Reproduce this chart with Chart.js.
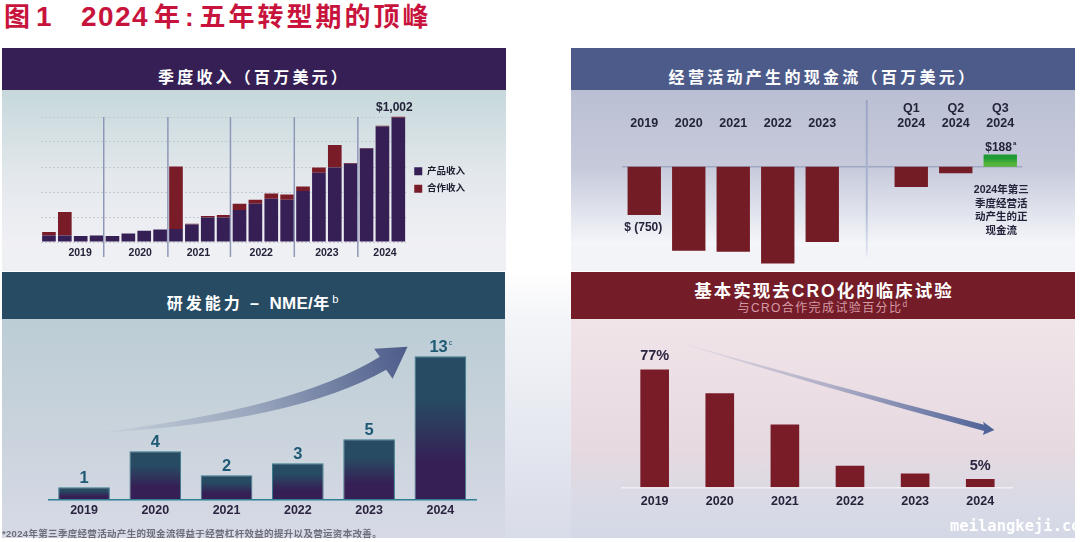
<!DOCTYPE html>
<html lang="zh-CN">
<head>
<meta charset="utf-8">
<title>2024年:五年转型期的顶峰</title>
<script src="https://cdn.jsdelivr.net/npm/chart.js@4"></script>
<style>
  html, body { margin: 0; padding: 0; background: #fff; }
  body { position: relative; width: 1080px; height: 542px; overflow: hidden;
    font-family: "Liberation Sans", "Noto Sans CJK SC", sans-serif; }
  .block { position: absolute; }
  canvas { position: absolute; display: block; }
  .header { position: absolute; color: #fff; font-weight: 700; text-align: center; white-space: nowrap; transform: translate(-50%, -50%); }
  sup { font-size: 0.7em; font-weight: 400; vertical-align: 0.5em; line-height: 0; }
  #figureTitle { position: absolute; left: 4px; top: -4px; font-size: 26px; font-weight: 700; color: #c8143c; letter-spacing: 3px; white-space: nowrap; }
  #figureTitle .num { font-size: 28px; letter-spacing: 1.4px; }
  #footnote { position: absolute; left: 2px; top: 526px; font-size: 9.5px; font-weight: 700; color: #6d6e7a; letter-spacing: 0.32px; white-space: nowrap; }
  #watermark { position: absolute; left: 950px; top: 517px; font-family: "DejaVu Sans Mono", monospace; font-size: 15.5px; font-weight: 700; color: #fff; white-space: nowrap; }
</style>
</head>
<body>
<div class="block" style="left:2px;top:48px;width:1073px;height:490px;background:linear-gradient(#fff 0%,#fff 45%,#f4f5f8 55%,#d8dce8 100%)"></div>
<div class="block" style="left:2px;top:90px;width:504px;height:156px;background:linear-gradient(#c6d8db,#e3e8ec 55%,#f0f0f5)"></div>
<div class="block" style="left:2px;top:246px;width:504px;height:25px;background:#eff0f4"></div>
<div class="block" style="left:571px;top:90px;width:504px;height:156px;background:linear-gradient(#bbbfd3,#c6cadb 50%,#f6f7fa)"></div>
<div class="block" style="left:571px;top:246px;width:504px;height:25px;background:#f3f4f8"></div>
<div class="block" style="left:2px;top:319px;width:503px;height:219px;background:linear-gradient(#bccdd5,#c9d3dc 50%,#d7dae6)"></div>
<div class="block" style="left:571px;top:319px;width:504px;height:219px;background:linear-gradient(#f0e4e9,#e6d9e0 60%,#d8dae6 85%,#d4d8e6)"></div>

<div class="block" style="left:2px;top:48px;width:504px;height:42px;background:#361f55"></div>
<div class="block" style="left:571px;top:48px;width:504px;height:42px;background:#4c5b8a"></div>
<div class="block" style="left:2px;top:272px;width:503px;height:47px;background:#274b63"></div>
<div class="block" style="left:571px;top:272px;width:504px;height:47px;background:#741c28"></div>

<canvas id="revenueChart" width="504" height="180" style="left:2px;top:90px"></canvas>
<canvas id="cashChart" width="504" height="180" style="left:571px;top:90px"></canvas>
<canvas id="nmeChart" width="503" height="219" style="left:2px;top:319px"></canvas>
<canvas id="croChart" width="504" height="219" style="left:571px;top:319px"></canvas>

<div id="figureTitle">图<span class="num" style="margin-left:3px">1</span><span class="num" style="margin-left:28px">2024</span><span style="margin-left:5px">年</span><span style="margin-left:2px;letter-spacing:5.8px">:</span>五年转型期的顶峰</div>
<div class="header" style="left:254px;top:76px;font-size:16px;letter-spacing:3.2px">季度收入（百万美元）</div>
<div class="header" style="left:823px;top:76px;font-size:16px;letter-spacing:3.3px">经营活动产生的现金流（百万美元）</div>
<div class="header" style="left:254px;top:302px;font-size:16px;letter-spacing:3px">研发能力 – <span style="letter-spacing:0.3px;font-size:17px">NME/</span>年<sup>b</sup></div>
<div class="header" style="left:824px;top:289px;font-size:17.5px;letter-spacing:2px">基本实现去CRO化的临床试验</div>
<div class="header" style="left:823px;top:306px;font-size:12px;font-weight:400;letter-spacing:1.4px;color:#d49aa6">与CRO合作完成试验百分比<sup>d</sup></div>
<div id="footnote">*2024年第三季度经营活动产生的现金流得益于经营杠杆效益的提升以及营运资本改善。</div>
<div id="watermark">meilangkeji.co</div>

<script>
const fontStack = '"Liberation Sans", "Noto Sans CJK SC", sans-serif';
Chart.defaults.font.family = fontStack;
Chart.defaults.animation = false;
Chart.defaults.responsive = false;

const revenue = {
  quarters: ['19Q1', '19Q2', '19Q3', '19Q4', '20Q1', '20Q2', '20Q3', '20Q4', '21Q1', '21Q2', '21Q3', '21Q4',
    '22Q1', '22Q2', '22Q3', '22Q4', '23Q1', '23Q2', '23Q3', '23Q4', '24Q1', '24Q2', '24Q3'],
  product: [53, 53, 48, 53, 48, 69, 91, 101, 104, 141, 197, 197, 256, 307, 347, 339, 408, 555, 597, 627, 749, 925, 995],
  collaboration: [27, 187, 0, 0, 0, 0, 0, 0, 501, 5, 11, 19, 51, 32, 42, 42, 37, 42, 179, 5, 3, 6, 7],
  // positions between bars, in category index units
  dividers: [3.45, 7.49, 11.43, 15.45, 19.45],
  years: [['2019', 1.96], ['2020', 5.75], ['2021', 9.41], ['2022', 13.37], ['2023', 17.5], ['2024', 21.16]]
};
const cashFlow = {
  labels: ['2019', '2020', '2021', '2022', '2023', '', ['Q1', '2024'], ['Q2', '2024'], ['Q3', '2024']],
  values: [-750, -1303, -1318, -1500, -1168, null, -315, -103, 188]
};
const nme = {
  labels: ['2019', '2020', '2021', '2022', '2023', '2024'],
  // the 2024 bar stands shorter than its "13" label in the original, so height and label are kept apart
  heights: [1, 4, 2, 3, 5, 11.9],
  values: ['1', '4', '2', '3', '5', '13']
};
const croShare = {
  labels: ['2019', '2020', '2021', '2022', '2023', '2024'],
  values: [77, 61.5, 41, 14, 9, 5.5]
};

function pixel(chart, index, value) {
  return [chart.scales.x.getPixelForValue(index), chart.scales.y.getPixelForValue(value)];
}

function drawText(ctx, text, x, y, { font, color, sup = '', supFont = '' }) {
  ctx.save();
  ctx.fillStyle = color;
  ctx.textBaseline = 'middle';
  ctx.font = font;
  const width = ctx.measureText(text).width;
  ctx.textAlign = 'left';
  let supWidth = 0;
  if (sup) {
    ctx.font = supFont;
    supWidth = ctx.measureText(sup).width;
    ctx.fillText(sup, x + width / 2 - supWidth / 2 + 1, y - 4);
    ctx.font = font;
  }
  ctx.fillText(text, x - width / 2 - supWidth / 2, y);
  ctx.restore();
}

// tapered arrow given in scale units, fading out towards its tail
function drawSwoosh(chart, shape, color) {
  const { ctx } = chart;
  const at = (point) => pixel(chart, point[0], point[1]);
  const tail = at(shape.tail);
  const tip = at(shape.tip);
  const gradient = ctx.createLinearGradient(tail[0], tail[1], tip[0], tip[1]);
  gradient.addColorStop(0, color + '00');
  gradient.addColorStop(0.5, color + '60');
  gradient.addColorStop(1, color);
  ctx.save();
  ctx.fillStyle = gradient;
  ctx.beginPath();
  ctx.moveTo(...tail);
  ctx.quadraticCurveTo(...at(shape.upperControl), ...at(shape.upperEnd));
  ctx.lineTo(...at(shape.barbUpper));
  ctx.lineTo(...tip);
  ctx.lineTo(...at(shape.barbLower));
  ctx.lineTo(...at(shape.lowerEnd));
  ctx.quadraticCurveTo(...at(shape.lowerControl), ...tail);
  ctx.closePath();
  ctx.fill();
  ctx.restore();
}

function barGradient(context, top, bottom) {
  const { chart, parsed } = context;
  if (!parsed || !chart.chartArea) return top;
  const high = chart.scales.y.getPixelForValue(Math.max(parsed.y, 0));
  const low = chart.scales.y.getPixelForValue(Math.min(parsed.y, 0));
  const gradient = chart.ctx.createLinearGradient(0, high, 0, low);
  gradient.addColorStop(0, top);
  gradient.addColorStop(0.3, top);
  gradient.addColorStop(0.75, bottom);
  gradient.addColorStop(1, bottom);
  return gradient;
}

const hiddenY = (min, max, extra = {}) => ({
  display: true,
  min,
  max,
  border: { display: false },
  grid: { display: false, drawTicks: false },
  ticks: { display: false },
  ...extra
});

new Chart(document.getElementById('revenueChart'), {
  type: 'bar',
  data: {
    labels: revenue.quarters,
    datasets: [
      { label: '产品收入', data: revenue.product, backgroundColor: '#361f55' },
      { label: '合作收入', data: revenue.collaboration, backgroundColor: '#7a1c28' }
    ]
  },
  options: {
    layout: { padding: { left: 39, right: 31 } },
    datasets: { bar: { categoryPercentage: 1, barPercentage: 0.86 } },
    plugins: {
      tooltip: { enabled: false },
      legend: {
        position: 'right',
        labels: { boxWidth: 8, boxHeight: 8, padding: 8, color: '#1d1d2d', font: { size: 9.5, weight: 700 } }
      }
    },
    scales: {
      x: {
        stacked: true,
        border: { display: false },
        grid: { display: false, drawTicks: false },
        ticks: { display: false },
        afterFit: (scale) => { scale.height = 28; }
      },
      // the scale runs past 1000 only to leave room for the $1,002 label above the plot
      y: hiddenY(0, 1216, {
        stacked: true,
        afterBuildTicks: (scale) => {
          scale.ticks = scale.ticks.filter((tick) => tick.value % 200 === 0 && tick.value <= 1000);
        },
        grid: { display: true, drawTicks: false, color: '#c3cbd2', lineWidth: 1 },
        border: { display: false, dash: [2, 2] }
      })
    }
  },
  plugins: [{
    id: 'revenueMarks',
    afterDatasetsDraw(chart) {
      const { ctx } = chart;
      const scaleY = chart.scales.y;
      ctx.save();
      ctx.strokeStyle = '#8f97b8';
      ctx.lineWidth = 1.5;
      revenue.dividers.forEach((index) => {
        const x = chart.scales.x.getPixelForValue(index);
        ctx.beginPath();
        ctx.moveTo(x, scaleY.getPixelForValue(1000));
        ctx.lineTo(x, chart.chartArea.bottom + 15);
        ctx.stroke();
      });
      ctx.restore();
      revenue.years.forEach(([text, index]) => {
        drawText(ctx, text, chart.scales.x.getPixelForValue(index), chart.chartArea.bottom + 11,
          { font: '700 10.5px ' + fontStack, color: '#23233a' });
      });
      const [x, y] = pixel(chart, 22, 1002);
      drawText(ctx, '$1,002', x - 4, y - 9, { font: '700 12px ' + fontStack, color: '#23233a' });
    }
  }]
});

new Chart(document.getElementById('cashChart'), {
  type: 'bar',
  data: {
    labels: cashFlow.labels,
    datasets: [{
      data: cashFlow.values,
      backgroundColor: (context) => (context.parsed && context.parsed.y > 0
        ? barGradient(context, '#1f9a34', '#55b53a')
        : '#741c26')
    }]
  },
  options: {
    layout: { padding: { left: 51, right: 52.5, top: 6, bottom: 4 } },
    datasets: { bar: { categoryPercentage: 1, barPercentage: 0.75 } },
    plugins: { legend: { display: false }, tooltip: { enabled: false } },
    scales: {
      x: {
        position: 'top',
        border: { display: false },
        grid: { display: false, drawTicks: false },
        ticks: { autoSkip: false, maxRotation: 0, padding: -1, color: '#23233a', font: { size: 12.5, weight: 700 } },
        afterFit: (scale) => { scale.height = 34; }
      },
      y: hiddenY(-1539, 569)
    }
  },
  plugins: [{
    id: 'cashMarks',
    beforeDatasetsDraw(chart) {
      const { ctx, chartArea } = chart;
      const zero = chart.scales.y.getPixelForValue(0);
      ctx.save();
      ctx.strokeStyle = '#a0a7c2';
      ctx.lineWidth = 1.5;
      ctx.beginPath();
      ctx.moveTo(chartArea.left, zero);
      ctx.lineTo(chartArea.right, zero);
      ctx.stroke();
      ctx.restore();
    },
    afterDatasetsDraw(chart) {
      const { ctx } = chart;
      const x = chart.scales.x.getPixelForValue(5);
      const gradient = ctx.createLinearGradient(0, 10, 0, 167);
      gradient.addColorStop(0, '#9aa5c4');
      gradient.addColorStop(0.7, '#aeb8d2');
      gradient.addColorStop(1, '#e6ebf4');
      ctx.save();
      ctx.strokeStyle = gradient;
      ctx.lineWidth = 2;
      ctx.beginPath();
      ctx.moveTo(x, 10);
      ctx.lineTo(x, chart.chartArea.bottom - 9);
      ctx.stroke();
      ctx.restore();

      const [firstX, firstY] = pixel(chart, 0, -750);
      drawText(ctx, '$ (750)', firstX - 1, firstY + 12.5, { font: '700 12px ' + fontStack, color: '#23233a' });
      const [lastX, lastY] = pixel(chart, 8, 188);
      drawText(ctx, '$188', lastX, lastY - 7, {
        font: '700 12px ' + fontStack, color: '#23233a', sup: 'a', supFont: '700 6px ' + fontStack
      });
      ['2024年第三', '季度经营活', '动产生的正', '现金流'].forEach((line, i) => {
        drawText(ctx, line, lastX + 1, 100.5 + i * 13.4, { font: '700 10.5px ' + fontStack, color: '#23233a' });
      });
    }
  }]
});

new Chart(document.getElementById('nmeChart'), {
  type: 'bar',
  data: {
    labels: nme.labels,
    datasets: [{
      data: nme.heights,
      backgroundColor: (context) => barGradient(context, '#274b63', '#361f55'),
      borderColor: '#3a7a8c',
      borderWidth: { top: 1, left: 1, right: 1, bottom: 0 }
    }]
  },
  options: {
    layout: { padding: { left: 46.4, right: 29, top: 6 } },
    datasets: { bar: { categoryPercentage: 1, barPercentage: 0.725 } },
    plugins: { legend: { display: false }, tooltip: { enabled: false } },
    scales: {
      x: {
        border: { color: '#2f7f92', width: 1.5 },
        grid: { display: false, drawTicks: false },
        ticks: { padding: 4, color: '#2a2440', font: { size: 12.5, weight: 700 } },
        afterFit: (scale) => { scale.height = 38.7; }
      },
      y: hiddenY(0, 14.5)
    }
  },
  plugins: [{
    id: 'nmeMarks',
    afterDatasetsDraw(chart) {
      const { ctx } = chart;
      nme.values.forEach((text, index) => {
        const [x, y] = pixel(chart, index, nme.heights[index]);
        const options = { font: '700 16.5px ' + fontStack, color: '#1e5a74' };
        if (text === '13') Object.assign(options, { sup: 'c', supFont: '400 7px ' + fontStack });
        drawText(ctx, text, x, y - 9, options);
      });
      drawSwoosh(chart, {
        tail: [0.154, 5.52],
        upperControl: [2.98, 7.53],
        upperEnd: [4.15, 11.86],
        barbUpper: [4.07, 12.53],
        tip: [4.54, 12.69],
        barbLower: [4.33, 10.03],
        lowerEnd: [4.24, 10.78],
        lowerControl: [2.94, 6.4]
      }, '#4c5b8a');
    }
  }]
});

new Chart(document.getElementById('croChart'), {
  type: 'bar',
  data: {
    labels: croShare.labels,
    datasets: [{ data: croShare.values, backgroundColor: '#7a1c28' }]
  },
  options: {
    layout: { padding: { left: 51.1, right: 62.2, top: 6 } },
    datasets: { bar: { categoryPercentage: 1, barPercentage: 0.44 } },
    plugins: { legend: { display: false }, tooltip: { enabled: false } },
    scales: {
      x: {
        border: { color: '#f3eef2', width: 1.5 },
        grid: { display: false, drawTicks: false },
        ticks: { padding: 7, color: '#23233a', font: { size: 12.5, weight: 700 } },
        afterFit: (scale) => { scale.height = 50.7; }
      },
      y: hiddenY(0, 106)
    }
  },
  plugins: [{
    id: 'croMarks',
    afterDatasetsDraw(chart) {
      const { ctx } = chart;
      const [firstX, firstY] = pixel(chart, 0, 77);
      drawText(ctx, '77%', firstX, firstY - 13.5, { font: '700 14.5px ' + fontStack, color: '#2a2440' });
      const [lastX, lastY] = pixel(chart, 5, 5.5);
      drawText(ctx, '5%', lastX, lastY - 13, { font: '700 14.5px ' + fontStack, color: '#2a2440' });
      drawSwoosh(chart, {
        tail: [0.184, 96.9],
        upperControl: [2.6, 68],
        upperEnd: [5.06, 40.8],
        barbUpper: [5.04, 42.9],
        tip: [5.217, 37.5],
        barbLower: [5.04, 34.2],
        lowerEnd: [5.06, 36.8],
        lowerControl: [2.6, 65]
      }, '#4c6096');
    }
  }]
});
</script>
</body>
</html>
